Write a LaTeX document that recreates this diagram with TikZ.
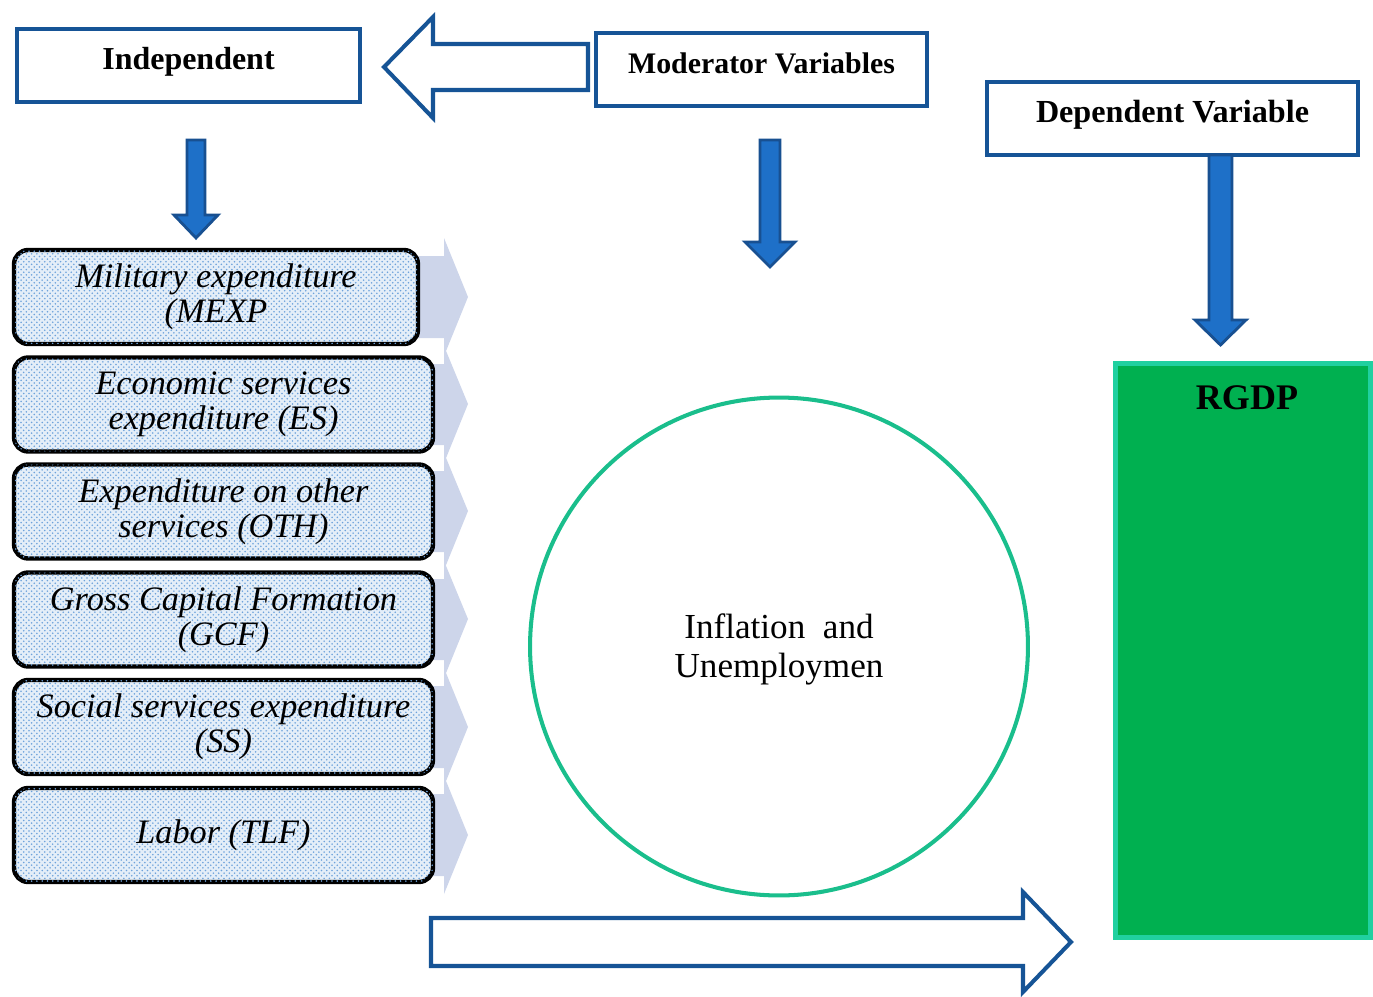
\documentclass[tikz,border=0pt]{standalone}
\usepackage{fontspec}
\setmainfont{Liberation Serif}
\usetikzlibrary{positioning, calc, patterns}
\definecolor{frameblue}{RGB}{22, 84, 150}
\definecolor{arrowblue}{RGB}{30, 112, 200}
\definecolor{arrowedge}{RGB}{24, 80, 145}
\definecolor{chevgrey}{RGB}{205, 213, 234}
\definecolor{listfill}{RGB}{200, 222, 242}
\definecolor{ringgreen}{RGB}{26, 190, 140}
\definecolor{rgdpgreen}{RGB}{0, 176, 80}
\definecolor{rgdpedge}{RGB}{32, 208, 160}

\begin{document}
\begin{tikzpicture}[
  x=0.02cm, y=-0.02cm,
  hdbox/.style={draw=frameblue, line width=2pt, fill=white, minimum height=1.46cm,
    font=\fontsize{17}{20}\selectfont\bfseries, text height=0.42cm, text depth=0.24cm},
  itembox/.style={draw=black, line width=2.5pt, rounded corners=8pt, fill=listfill!50,
    postaction={pattern=crosshatch dots, pattern color=arrowblue!65},
    minimum width=8.38cm, minimum height=1.88cm, align=center,
    font=\fontsize{19.5}{20}\selectfont\itshape},
  chev/.style={fill=chevgrey, draw=none},
  hollowarrow/.style={draw=frameblue, line width=2.3pt, fill=white, line join=miter},
  fatarrow/.style={draw=arrowedge, line width=1.6pt, fill=arrowblue, line join=miter}
]
  \useasboundingbox (0,0) rectangle (1373,997);

  % --- header boxes ---
  \node[hdbox, minimum width=6.86cm, font=\fontsize{18.2}{20}\selectfont\bfseries] (indep) at (188.5, 65.5) {Independent};
  \node[hdbox, minimum width=6.62cm] (moder) at (761.5, 69.5) {Moderator Variables};
  \node[hdbox, minimum width=7.42cm, font=\fontsize{18.3}{20}\selectfont\bfseries] (depen) at (1172.5, 118.5) {Dependent Variable};

  % --- hollow arrow: moderator to independent ---
  \draw[hollowarrow] (384, 67) -- (433, 17) -- (433, 44) -- (588, 44) -- (588, 90)
    -- (433, 90) -- (433, 118) -- cycle;

  % --- filled down arrows ---
  \draw[fatarrow] (187, 140) -- (205, 140) -- (205, 215) -- (218, 215) -- (196, 238)
    -- (174, 215) -- (187, 215) -- cycle;
  \draw[fatarrow] (760, 140) -- (780, 140) -- (780, 242) -- (795, 242) -- (770, 267)
    -- (745, 242) -- (760, 242) -- cycle;
  \draw[fatarrow] (1209, 155) -- (1232, 155) -- (1232, 320) -- (1246, 320) -- (1220.5, 345)
    -- (1195, 320) -- (1209, 320) -- cycle;

  % --- chevrons behind the list ---
  \fill[chev] (400, 256) -- (444, 256) -- (444, 238) -- (468, 297) -- (444, 356) -- (444, 338) -- (400, 338) -- cycle;
  \fill[chev] (400, 364) -- (444, 364) -- (444, 346) -- (468, 404) -- (444, 463) -- (444, 445) -- (400, 445) -- cycle;
  \fill[chev] (400, 471) -- (444, 471) -- (444, 453) -- (468, 511) -- (444, 570) -- (444, 552) -- (400, 552) -- cycle;
  \fill[chev] (400, 579) -- (444, 579) -- (444, 561) -- (468, 619) -- (444, 678) -- (444, 660) -- (400, 660) -- cycle;
  \fill[chev] (400, 686) -- (444, 686) -- (444, 668) -- (468, 727) -- (444, 786) -- (444, 768) -- (400, 768) -- cycle;
  \fill[chev] (400, 794) -- (444, 794) -- (444, 776) -- (468, 835) -- (444, 894) -- (444, 876) -- (400, 876) -- cycle;

  % --- independent variables ---
  \node[itembox, minimum width=8.08cm] (mexp) at (216, 297) {Military expenditure\\(MEXP};
  \node[itembox] (es) at (223.5, 404.5) {Economic services\\expenditure (ES)};
  \node[itembox] (oth) at (223.5, 511.5) {Expenditure on other\\services (OTH)};
  \node[itembox] (gcf) at (223.5, 619.5) {Gross Capital Formation\\(GCF)};
  \node[itembox] (ss) at (223.5, 727) {Social services expenditure\\(SS)};
  \node[itembox] (tlf) at (223.5, 835) {Labor (TLF)};

  % --- moderator ---
  \node[draw=ringgreen, line width=2.3pt, circle, minimum size=9.96cm, align=center,
    font=\fontsize{20}{22}\selectfont] (infl) at (779, 646.5) {};
  \node[align=center, font=\fontsize{20}{22}\selectfont] (infltxt) at (779, 649.5) {Inflation~ and\\Unemploymen};

  % --- dependent ---
  \node[draw=rgdpedge, fill=rgdpgreen, line width=2.8pt, minimum width=5.1cm,
    minimum height=11.48cm] (rgdp) at (1243, 650.5) {};
  \node[font=\fontsize{20.5}{22}\selectfont\bfseries] (rgdptxt) at (1247, 398) {RGDP};

  % --- hollow arrow to RGDP ---
  \draw[hollowarrow] (431, 918) -- (1023, 918) -- (1023, 892) -- (1071, 942) -- (1023, 992)
    -- (1023, 966) -- (431, 966) -- cycle;
\end{tikzpicture}
\end{document}
